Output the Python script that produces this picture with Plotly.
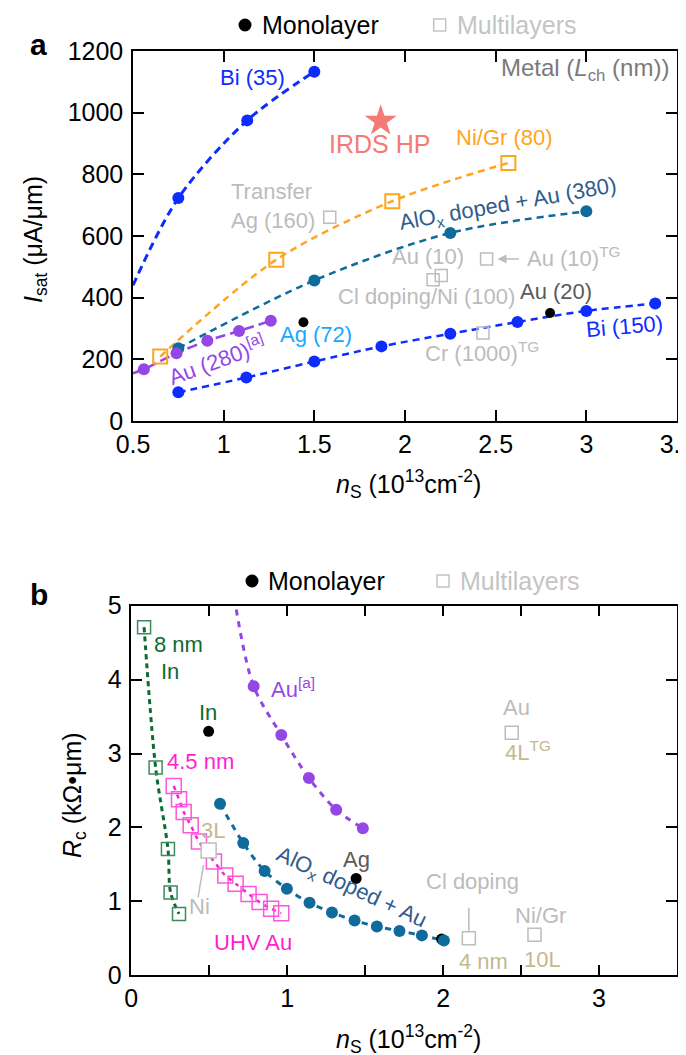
import plotly.graph_objects as go

# ---------------- Panel a data (n_s in 1e13 cm^-2, I_sat in uA/um) ----------------
bi35_x = [0.75, 1.13, 1.50]
bi35_y = [723, 975, 1133]
bi35_fit_x = [0.50, 0.75, 1.13, 1.50]
bi35_fit_y = [440, 723, 975, 1133]

nigr_x = [0.65, 1.29, 1.93, 2.57]
nigr_y = [209, 523, 713, 837]

alox_a_x = [0.75, 1.50, 2.25, 3.00]
alox_a_y = [236, 456, 610, 680]

au280_x = [0.56, 0.74, 0.91, 1.085, 1.26]
au280_y = [168, 220, 260, 292, 325]
au280_fit_x = [0.50, 0.56, 0.74, 0.91, 1.085, 1.26]
au280_fit_y = [155, 168, 220, 260, 292, 325]

bi150_x = [0.75, 1.125, 1.50, 1.87, 2.25, 2.62, 3.00, 3.38]
bi150_y = [93, 141, 193, 242, 283, 321, 357, 381]

mono_a_x = [1.44, 2.80]          # Ag (72), Au (20)
mono_a_y = [320, 350]

multi_a_x = [1.585, 2.155, 2.20, 2.45, 2.43]   # Transfer Ag, Cl/Ni, Au(10), Au(10)TG, Cr(1000)TG
multi_a_y = [661, 458, 472, 525, 285]

irds_x = [1.866]
irds_y = [973]

# ---------------- Panel b data (n_s, R_c in kOhm*um) ----------------
in8_x = [0.082, 0.156, 0.235, 0.252, 0.306]
in8_y = [4.71, 2.81, 1.71, 1.12, 0.83]

uhv_x = [0.272, 0.306, 0.336, 0.381, 0.434, 0.530, 0.603, 0.669, 0.752, 0.823, 0.897, 0.962]
uhv_y = [2.56, 2.38, 2.21, 2.03, 1.81, 1.54, 1.35, 1.24, 1.10, 0.99, 0.90, 0.84]

aub_x = [0.785, 0.962, 1.139, 1.314, 1.485]
aub_y = [3.91, 3.25, 2.67, 2.24, 1.99]
aub_fit_x = [0.673, 0.785, 0.962, 1.139, 1.314, 1.485]
aub_fit_y = [4.95, 3.91, 3.25, 2.67, 2.24, 1.99]

alox_b_x = [0.569, 0.718, 0.855, 0.998, 1.143, 1.287, 1.432, 1.575, 1.72, 1.864, 2.005]
alox_b_y = [2.32, 1.79, 1.41, 1.17, 0.98, 0.85, 0.74, 0.66, 0.60, 0.54, 0.47]

mono_b_x = [0.496, 1.442, 1.99]   # In, Ag, Au
mono_b_y = [3.30, 1.31, 0.49]

multi_b_x = [2.44, 2.165, 2.586]  # Au 4L TG, Cl doping 4 nm, Ni/Gr 10L
multi_b_y = [3.28, 0.50, 0.55]
ni3l_x = [0.496]
ni3l_y = [1.69]

# ---------------- ticks ----------------
xa_ticks = [0.5, 1, 1.5, 2, 2.5, 3, 3.5]
xa_labels = ["0.5", "1", "1.5", "2", "2.5", "3", "3.5"]
ya_ticks = [0, 200, 400, 600, 800, 1000, 1200]
xb_ticks = [0, 0.5, 1, 1.5, 2, 2.5, 3, 3.5]
xb_labels = ["0", " ", "1", " ", "2", " ", "3", " "]
yb_ticks = [0, 1, 2, 3, 4, 5]

# ---------------- colours ----------------
BLUE = "#0f2cff"
TEAL = "#0f6b9c"
TEAL_TXT = "#2f5c8e"
PURPLE = "#9547e6"
ORANGE = "#ffa51c"
GRAY = "#bdbdbd"
GRAYTXT = "#bcbcbc"
DARKGRAY = "#5a5a5a"
TAN = "#c4b88f"
GREEN = "#0d6b34"
GREENSQ = "#3b8a5c"
MAGENTA = "#ff1fce"
PINKSQ = "#ff55dc"
SALMON = "#f47a76"
LIGHTBLUE = "#18a8ff"

FONT = "Liberation Sans, Arial, sans-serif"

fig = go.Figure()

def line(x, y, color, width, dash, xa="x", ya="y"):
    fig.add_trace(go.Scatter(x=x, y=y, mode="lines", xaxis=xa, yaxis=ya,
                             line=dict(color=color, width=width, dash=dash, shape="spline", smoothing=0.9),
                             hoverinfo="skip", showlegend=False))

def pts(x, y, color, size, symbol="circle", lw=0, fill=None, xa="x", ya="y"):
    m = dict(color=fill if fill else color, size=size, symbol=symbol,
             line=dict(color=color, width=lw))
    fig.add_trace(go.Scatter(x=x, y=y, mode="markers", xaxis=xa, yaxis=ya,
                             marker=m, showlegend=False))

# ---- panel a ----
line(bi35_fit_x, bi35_fit_y, BLUE, 3, "8px,5px")
line(nigr_x, nigr_y, ORANGE, 2.5, "7px,5px")
line(alox_a_x, alox_a_y, TEAL, 2.5, "7px,5px")
line(au280_fit_x, au280_fit_y, PURPLE, 2.5, "10px,5px")
line(bi150_x, bi150_y, BLUE, 2.5, "7px,5px")
pts(bi35_x, bi35_y, BLUE, 12)
pts(nigr_x, nigr_y, ORANGE, 14, "square-open", 2)
pts(alox_a_x, alox_a_y, TEAL, 12)
pts(au280_x, au280_y, PURPLE, 12)
pts(bi150_x, bi150_y, BLUE, 12)
pts(mono_a_x, mono_a_y, "black", 10)
pts(multi_a_x, multi_a_y, GRAY, 12, "square-open", 1.5)
pts(irds_x, irds_y, SALMON, 24, "star")

# ---- panel b ----
line(in8_x, in8_y, GREEN, 3, "5px,4px", "x2", "y2")
line(uhv_x, uhv_y, MAGENTA, 2.5, "4px,5px", "x2", "y2")
line(aub_fit_x, aub_fit_y, PURPLE, 3, "6px,6px", "x2", "y2")
line(alox_b_x, alox_b_y, TEAL, 3, "6px,6px", "x2", "y2")
pts(mono_b_x, mono_b_y, "black", 11, xa="x2", ya="y2")
pts(in8_x, in8_y, GREENSQ, 13, "square-open", 1.5, xa="x2", ya="y2")
pts(uhv_x, uhv_y, PINKSQ, 15, "square-open", 1.5, xa="x2", ya="y2")
pts(aub_x, aub_y, PURPLE, 12, xa="x2", ya="y2")
pts(alox_b_x, alox_b_y, TEAL, 12, xa="x2", ya="y2")
pts(multi_b_x, multi_b_y, GRAY, 13, "square-open", 1.5, xa="x2", ya="y2")
pts(ni3l_x, ni3l_y, GRAY, 15, "square", 1.5, fill="white", xa="x2", ya="y2")

# ---------------- text labels ----------------
labels_a = [
    ("Bi (35)", 1.16, 1113, BLUE, 22, 0, "center"),
    ("Metal (<i>L</i><sub>ch</sub> (nm))", 3.465, 1140, "#7a7a7a", 24, 0, "right"),
    ("IRDS HP", 1.862, 899, SALMON, 25, 0, "center"),
    ("Ni/Gr (80)", 2.55, 918, ORANGE, 22, 0, "center"),
    ("AlO<sub>x</sub> doped + Au (380)", 2.568, 702, TEAL_TXT, 22, -10, "center"),
    ("Transfer<br>Ag (160)", 1.274, 697, GRAYTXT, 22, 0, "center"),
    ("Au (10)", 2.125, 534, GRAYTXT, 22, 0, "center"),
    ("Au (10)<sup>TG</sup>", 2.66, 531, GRAYTXT, 22, 0, "left"),
    ("Cl doping/Ni (100)", 2.121, 404, GRAYTXT, 22, 0, "center"),
    ("Au (20)", 2.835, 420, DARKGRAY, 22, 0, "center"),
    ("Bi (150)", 3.208, 307, BLUE, 22, -5, "center"),
    ("Cr (1000)<sup>TG</sup>", 2.425, 225, GRAYTXT, 22, 0, "center"),
    ("Ag (72)", 1.51, 280, LIGHTBLUE, 22, 0, "center"),
    ("Au (280)<sup>[a]</sup>", 0.965, 200, PURPLE, 22, -20, "center"),
]
labels_b = [
    ("8 nm", 0.304, 4.48, GREEN, 22, 0, "center"),
    ("In", 0.246, 4.11, GREEN, 22, 0, "center"),
    ("In", 0.492, 3.55, GREEN, 22, 0, "center"),
    ("Au<sup>[a]</sup>", 1.037, 3.88, PURPLE, 22, 0, "center"),
    ("4.5 nm", 0.444, 2.89, MAGENTA, 22, 0, "center"),
    ("3L", 0.524, 1.96, TAN, 22, 0, "center"),
    ("Ni", 0.438, 0.93, GRAYTXT, 22, 0, "center"),
    ("UHV Au", 0.78, 0.45, MAGENTA, 22, 0, "center"),
    ("AlO<sub>x</sub> doped + Au", 1.41, 1.18, TEAL_TXT, 22, 25, "center"),
    ("Ag", 1.442, 1.56, DARKGRAY, 22, 0, "center"),
    ("Au", 2.468, 3.62, GRAYTXT, 22, 0, "center"),
    ("4L<sup>TG</sup>", 2.543, 3.03, TAN, 22, 0, "center"),
    ("Cl doping", 2.19, 1.27, GRAYTXT, 22, 0, "center"),
    ("4 nm", 2.26, 0.18, TAN, 22, 0, "center"),
    ("Ni/Gr", 2.622, 0.81, GRAYTXT, 22, 0, "center"),
    ("10L", 2.635, 0.21, TAN, 22, 0, "center"),
]

annos = []
for labs, xr, yr in ((labels_a, "x", "y"), (labels_b, "x2", "y2")):
    for t, x, y, c, s, ang, anc in labs:
        annos.append(dict(text=t, x=x, y=y, xref=xr, yref=yr, showarrow=False,
                          xanchor=anc, yanchor="middle", textangle=ang, align="left",
                          font=dict(family=FONT, size=s, color=c)))

# leader arrows / lines (tip x, tip y, tail x, tail y)
arrows = [
    (2.51, 525, 2.645, 525, "x", "y", 2),
    (0.428, 1.05, 0.474, 1.63, "x2", "y2", 0),
    (2.165, 0.60, 2.165, 1.05, "x2", "y2", 0),
]
for x, y, ax, ay, xr, yr, head in arrows:
    annos.append(dict(text=" ", x=x, y=y, ax=ax, ay=ay, xref=xr, yref=yr, axref=xr, ayref=yr,
                      showarrow=True, arrowhead=head, arrowsize=1.2, arrowwidth=1.5,
                      arrowcolor=GRAY, standoff=0, startstandoff=0))

W, H = 686, 1055
def px(x): return x / W
def py(y): return 1 - y / H

# legends + panel letters + axis titles
for (cx, cy, tx1, tx2) in ((237, 17, 252, 447), (244, 573, 258, 450)):
    annos.append(dict(text="Monolayer", x=px(tx1), y=py(cy), xref="paper", yref="paper", showarrow=False,
                      xanchor="left", yanchor="middle", font=dict(family=FONT, size=25, color="black")))
    annos.append(dict(text="Multilayers", x=px(tx2), y=py(cy), xref="paper", yref="paper", showarrow=False,
                      xanchor="left", yanchor="middle", font=dict(family=FONT, size=25, color="#c4c4c4")))

annos += [
    dict(text="<b>a</b>", x=px(30), y=py(36), xref="paper", yref="paper", showarrow=False,
         xanchor="center", yanchor="middle", font=dict(family=FONT, size=30, color="black")),
    dict(text="<b>b</b>", x=px(31), y=py(586), xref="paper", yref="paper", showarrow=False,
         xanchor="center", yanchor="middle", font=dict(family=FONT, size=30, color="black")),
    dict(text="<i>I</i><sub>sat</sub> (μA/μm)", x=px(27), y=py(232), xref="paper", yref="paper",
         showarrow=False, textangle=-90, xanchor="center", yanchor="middle",
         font=dict(family=FONT, size=25, color="black")),
    dict(text="<i>R</i><sub>c</sub> (kΩ•μm)", x=px(66), y=py(787), xref="paper", yref="paper",
         showarrow=False, textangle=-90, xanchor="center", yanchor="middle",
         font=dict(family=FONT, size=25, color="black")),
    dict(text="<i>n</i><sub>S</sub> (10<sup>13</sup>cm<sup>-2</sup>)", x=px(400), y=py(496), xref="paper",
         yref="paper", showarrow=False, xanchor="center", yanchor="bottom",
         font=dict(family=FONT, size=25, color="black")),
    dict(text="<i>n</i><sub>S</sub> (10<sup>13</sup>cm<sup>-2</sup>)", x=px(400), y=py(1051), xref="paper",
         yref="paper", showarrow=False, xanchor="center", yanchor="bottom",
         font=dict(family=FONT, size=25, color="black")),
]

shapes = [
    dict(type="circle", xref="paper", yref="paper", x0=px(230.5), x1=px(243.5), y0=py(23.5), y1=py(10.5),
         fillcolor="black", line=dict(width=0)),
    dict(type="rect", xref="paper", yref="paper", x0=px(425.7), x1=px(437.7), y0=py(23), y1=py(11),
         line=dict(color="#c4c4c4", width=1.5)),
    dict(type="circle", xref="paper", yref="paper", x0=px(237.5), x1=px(250.5), y0=py(579.5), y1=py(566.5),
         fillcolor="black", line=dict(width=0)),
    dict(type="rect", xref="paper", yref="paper", x0=px(429), x1=px(441), y0=py(579), y1=py(567),
         line=dict(color="#c4c4c4", width=1.5)),
]

axis_common = dict(showgrid=False, zeroline=False, showline=True, linecolor="black", linewidth=1.5,
                   mirror="ticks", ticks="inside", ticklen=11, tickwidth=1.5, tickcolor="black",
                   automargin=False, ticklabeloverflow="allow",
                   tickfont=dict(family=FONT, size=25, color="black"))

fig.update_layout(
    width=W, height=H, margin=dict(l=0, r=0, t=0, b=0, pad=0, autoexpand=False),
    paper_bgcolor="white", plot_bgcolor="white", showlegend=False,
    xaxis=dict(domain=[px(125), px(669)], range=[0.5, 3.5], tickvals=xa_ticks, ticktext=xa_labels,
               anchor="y", **axis_common),
    yaxis=dict(domain=[py(413), py(43)], range=[0, 1200], tickvals=ya_ticks, anchor="x",
               ticklabelstandoff=3, **axis_common),
    xaxis2=dict(domain=[px(123.3), px(669)], range=[0, 3.5], tickvals=xb_ticks, ticktext=xb_labels,
                anchor="y2", **axis_common),
    yaxis2=dict(domain=[py(967.3), py(597.7)], range=[0, 5], tickvals=yb_ticks, anchor="x2",
                ticklabelstandoff=3, **axis_common),
    annotations=annos, shapes=shapes,
)

fig.write_html("out.html")
